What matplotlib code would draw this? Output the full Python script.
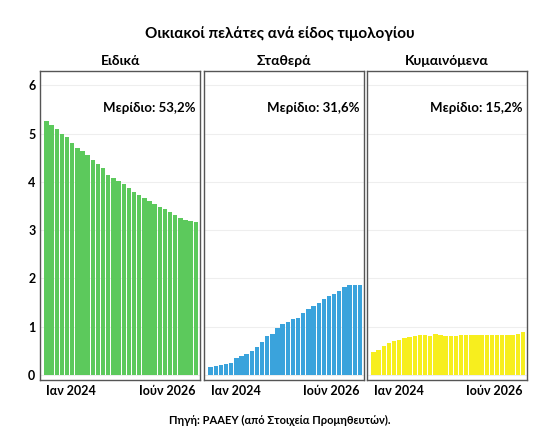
import matplotlib
matplotlib.use("Agg")
import matplotlib.pyplot as plt
import numpy as np

plt.rcParams['font.family'] = ['Lato', 'DejaVu Sans']

titles = ["Ειδικά", "Σταθερά", "Κυμαινόμενα"]
shares = ["Μερίδιο: 53,2%", "Μερίδιο: 31,6%", "Μερίδιο: 15,2%"]
colors = ["#5cc95c", "#3aa3dc", "#f7ee1e"]
special = [5.25,5.17,5.09,5.0,4.92,4.8,4.7,4.63,4.55,4.46,4.38,4.28,4.14,4.07,4.01,
           3.95,3.88,3.8,3.72,3.66,3.6,3.54,3.48,3.43,3.38,3.32,3.26,3.22,3.19,3.16]
fixed = [0.17,0.19,0.2,0.22,0.25,0.35,0.4,0.43,0.5,0.58,0.68,0.8,0.85,0.98,1.05,
         1.1,1.17,1.19,1.28,1.37,1.44,1.5,1.57,1.63,1.68,1.74,1.82,1.86,1.87,1.86]
variable = [0.48,0.52,0.6,0.66,0.71,0.72,0.76,0.79,0.81,0.83,0.83,0.81,0.86,0.83,0.81,
            0.81,0.8,0.84,0.84,0.82,0.83,0.83,0.83,0.83,0.82,0.82,0.82,0.82,0.85,0.9]
series = [special, fixed, variable]
tick_labels = ["Ιαν 2024", "Ιούν 2026"]

fig = plt.figure(figsize=(5.6, 4.48), dpi=100)
lefts = [0.072, 0.365, 0.656]
w = 0.285
axes = []
for i in range(3):
    ax = fig.add_axes([lefts[i], 0.152, w, 0.69], sharey=axes[0] if axes else None)
    axes.append(ax)
    vals = series[i]
    x = np.arange(len(vals))
    ax.bar(x, vals, width=0.85, color=colors[i], zorder=2)
    ax.set_ylim(-0.1, 6.3)
    ax.set_xlim(-1.2, len(vals) - 0.2)
    ax.set_yticks([0, 1, 2, 3, 4, 5, 6])
    ax.grid(axis='y', color='#eeeeee', lw=0.8, zorder=0)
    ax.set_xticks([0, len(vals) - 1])
    ax.set_xticklabels(tick_labels, fontsize=9, fontweight='bold')
    xl = ax.get_xticklabels()
    xl[0].set_ha('left')
    xl[1].set_ha('right')
    ax.tick_params(length=0, labelsize=9)
    for lbl in ax.get_yticklabels():
        lbl.set_fontweight('bold')
    if i > 0:
        ax.tick_params(labelleft=False)
    for s in ax.spines.values():
        s.set_color('#555555'); s.set_linewidth(1)
    ax.set_title(titles[i], fontsize=10, fontweight='bold', pad=4)
    ax.text(0.97, 0.88, shares[i], transform=ax.transAxes, ha='right', va='center',
            fontsize=9.5, fontweight='bold')

fig.text(0.5, 0.925, "Οικιακοί πελάτες ανά είδος τιμολογίου", ha='center', va='center',
         fontsize=11, fontweight='bold')
fig.text(0.5, 0.062, "Πηγή: ΡΑΑΕΥ (από Στοιχεία Προμηθευτών).", ha='center', va='center',
         fontsize=8, fontweight='bold')
fig.savefig("out.png", dpi=100)
